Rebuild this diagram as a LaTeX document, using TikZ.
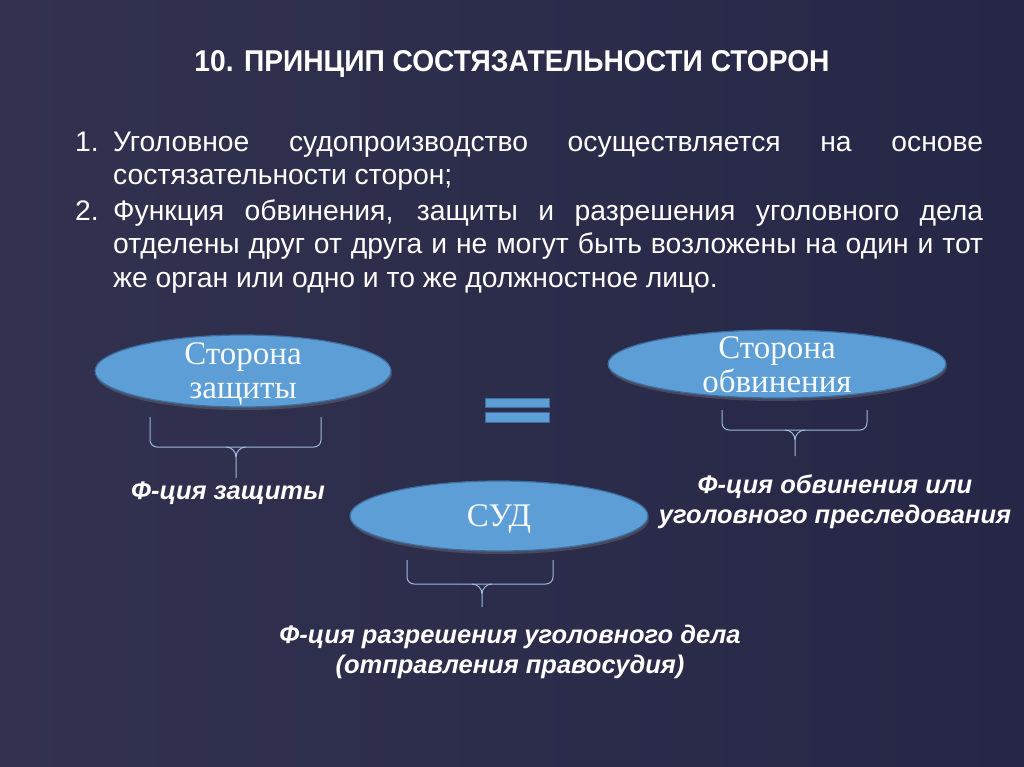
\documentclass[tikz,border=0pt]{standalone}
\usepackage{fontspec}
\setmainfont{Liberation Sans}
\newfontfamily\serifru{Liberation Serif}
\usetikzlibrary{shapes.geometric,shadows}
\definecolor{bgnavy}{RGB}{43,43,75}
\definecolor{bgleft}{RGB}{50,50,80}
\definecolor{bgright}{RGB}{38,38,70}
\definecolor{ellfill}{RGB}{93,158,214}
\definecolor{elldraw}{RGB}{62,110,160}
\definecolor{bracecol}{RGB}{160,186,220}
\begin{document}
\begin{tikzpicture}[x=1pt,y=-1pt,
  oval/.style={ellipse,fill=ellfill,draw=elldraw,line width=1.2pt,inner sep=0pt,
     drop shadow={opacity=0.35,shadow xshift=1pt,shadow yshift=-3pt}},
  ovaltext/.style={font=\serifru\fontsize{33}{34}\selectfont,text=white!95!ellfill,align=center},
  label/.style={font=\fontsize{25.5}{30.5}\selectfont\bfseries\itshape,text=white,align=center},
  body/.style={font=\fontsize{28.3}{33}\selectfont,text=white,anchor=base west,inner sep=0pt},
  bracel/.style={draw=bracecol,line width=1pt,rounded corners=7pt},
  bar/.style={fill=ellfill,draw=elldraw,line width=1pt}]
\shade[left color=bgleft,right color=bgright] (0,0) rectangle (1024,767);
\useasboundingbox (0,0) rectangle (1024,767);
% title
\node[text=white,inner sep=0pt,anchor=base] (title) at (512,72)
  {\resizebox{635pt}{21pt}{\bfseries 10. ПРИНЦИП СОСТЯЗАТЕЛЬНОСТИ СТОРОН}};
% list
\node[body] (n1) at (75,152) {1.};
\node[body] (l1) at (113,152) {\makebox[870pt][s]{Уголовное судопроизводство осуществляется на основе}};
\node[body] (l2) at (113,185) {состязательности сторон;};
\node[body] (n2) at (75,221) {2.};
\node[body] (l3) at (113,221) {\makebox[870pt][s]{Функция обвинения, защиты и разрешения уголовного дела}};
\node[body] (l4) at (113,253) {\makebox[870pt][s]{отделены друг от друга и не могут быть возложены на один и тот}};
\node[body] (l5) at (113,287) {же орган или одно и то же должностное лицо.};
% ellipses
\node[oval,minimum width=296pt,minimum height=72pt] (def) at (243,371) {};
\node[ovaltext] (deft) at (243,374) {Сторона\\защиты};
\node[oval,minimum width=338pt,minimum height=68pt] (pros) at (777,364) {};
\node[ovaltext] (prost) at (777,365) {Сторона\\обвинения};
\node[oval,minimum width=298pt,minimum height=70pt] (court) at (499,516) {};
\node[ovaltext] (courtt) at (499,519) {СУД};
% equal sign
\draw[bar] (485,398) rectangle (549,407);
\draw[bar] (485,412) rectangle (549,422);
% braces
\draw[bracel] (150,417) -- (150,447) -- (321,447) -- (321,417);
\draw[draw=bracecol,line width=1pt] (226,447) to[out=0,in=90] (236,457) -- (236,478);
\draw[draw=bracecol,line width=1pt] (246,447) to[out=180,in=90] (236,457);
\draw[bracel] (722,410) -- (722,430) -- (867,430) -- (867,410);
\draw[draw=bracecol,line width=1pt] (785,430) to[out=0,in=90] (795,440) -- (795,456);
\draw[draw=bracecol,line width=1pt] (805,430) to[out=180,in=90] (795,440);
\draw[bracel] (407,560) -- (407,584) -- (553,584) -- (553,560);
\draw[draw=bracecol,line width=1pt] (472,584) to[out=0,in=90] (482,594) -- (482,607);
\draw[draw=bracecol,line width=1pt] (492,584) to[out=180,in=90] (482,594);
% labels
\node[label] (fdef) at (228,493) {Ф-ция защиты};
\node[label] (fpros) at (835,502) {Ф-ция обвинения или\\уголовного преследования};
\node[label] (fcourt) at (510,652) {Ф-ция разрешения уголовного дела\\(отправления правосудия)};
\end{tikzpicture}
\end{document}
